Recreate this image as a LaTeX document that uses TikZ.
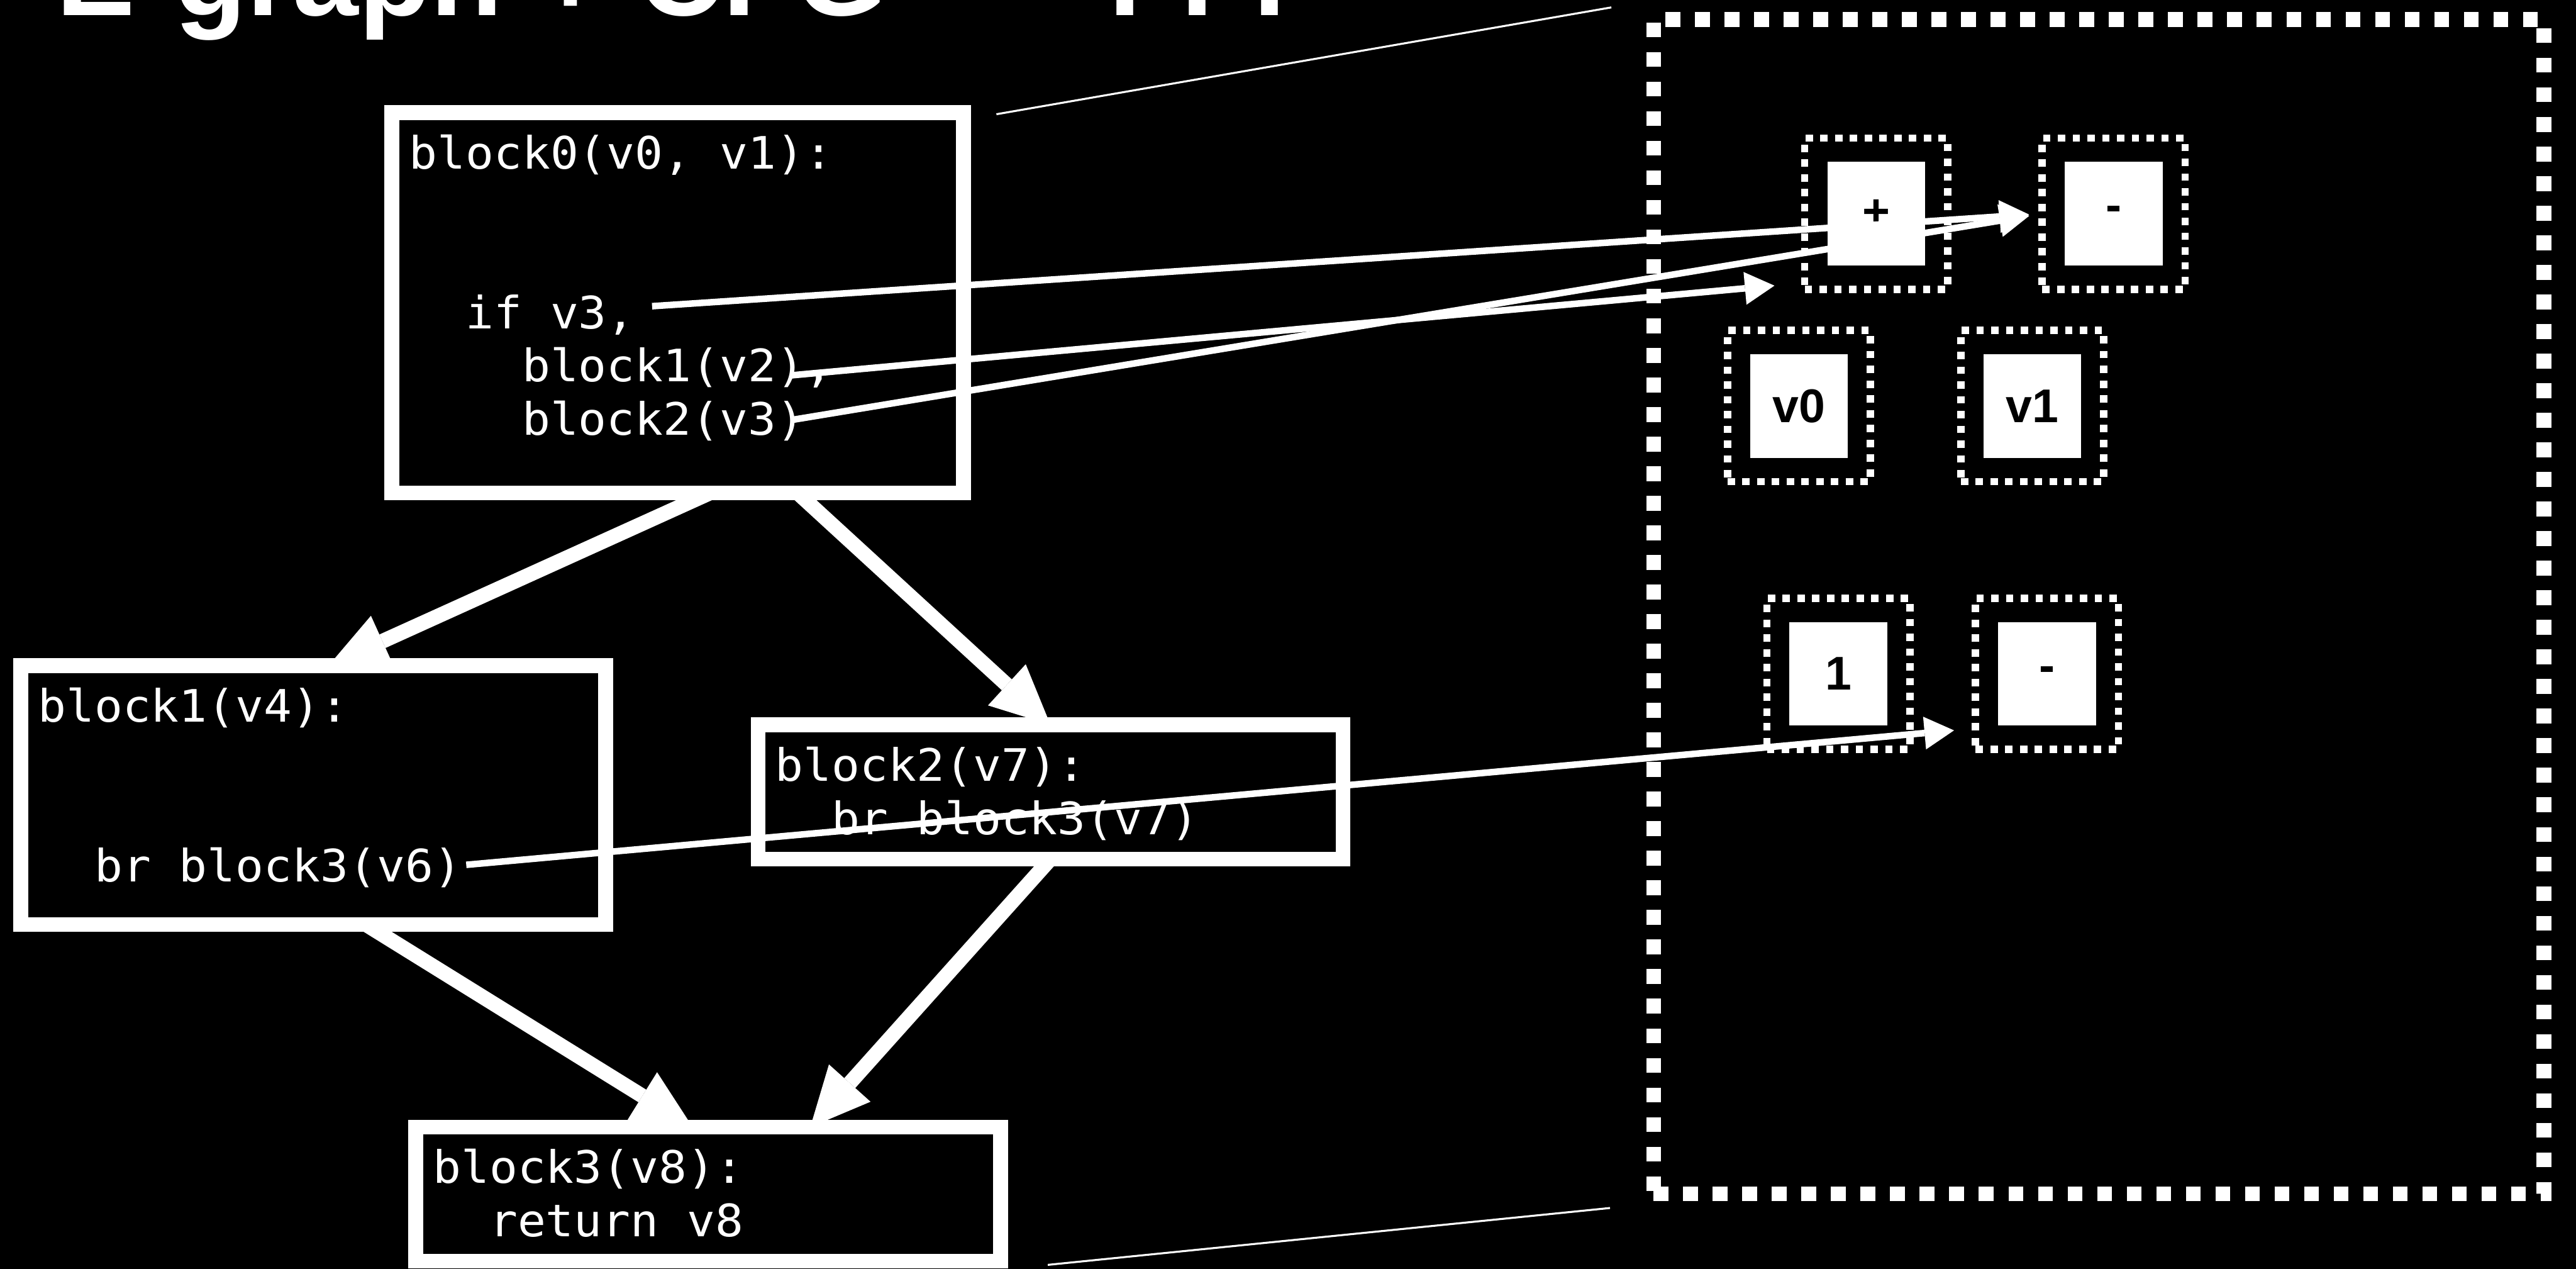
\documentclass[tikz,border=0pt]{standalone}
\usepackage{fontspec}
\setmainfont{Liberation Sans}
\setmonofont[FakeStretch=1.05]{DejaVu Sans Mono}
\usetikzlibrary{arrows.meta,calc}

\newcommand\cfgfont{\ttfamily\fontsize{27.2}{32.4}\selectfont}
\newcommand\enodefont{\bfseries\fontsize{28.8}{32}\selectfont}

\begin{document}
\begin{tikzpicture}[x=1pt, y=-1pt,
  block/.style={draw=white, line width=9pt, inner sep=0pt, outer sep=0pt, minimum width=356pt},
  code/.style={white, font=\cfgfont, inner sep=0pt, anchor=base west},
  egraph/.style={draw=white, line width=9pt, dash pattern=on 9pt off 9pt, inner sep=0pt, outer sep=0pt},
  eclass/.style={draw=white, line width=4.5pt, dash pattern=on 4.5pt off 4.5pt,
    minimum width=87pt, minimum height=92pt, inner sep=0pt, outer sep=0pt},
  enode/.style={fill=white, text=black, font=\enodefont, minimum width=59.5pt, minimum height=63pt, inner sep=0pt},
  cflow/.style={white, line width=9pt, -{Triangle[length=36pt, width=34pt, line width=0pt]}},
  dflow/.style={white, line width=4pt, -{Triangle[length=18pt, width=20pt, line width=0pt]}},
  zoomline/.style={white, line width=1.2pt}]

  % Slide background
  \path[use as bounding box, fill=black] (0,0) rectangle (1568,772);
  \clip (0,0) rectangle (1568,772);

  % Title (cut off at the top)
  \node[anchor=base west, inner sep=0pt, white, font=\bfseries\fontsize{72}{80}\selectfont]
    (title) at (34,9.25) {E-graph + CFG == ???};

  % -------------------------------------------------------
  % CFG blocks
  % -------------------------------------------------------
  \node[block, minimum width=348pt, minimum height=231.5pt] (b0) at (412.5,184.25) {};
  \node[block, minimum height=157.5pt] (b1) at (190.6,483.75) {};
  \node[block, minimum height=81.7pt]  (b2) at (639.4,481.85) {};
  \node[block, minimum height=81.6pt]  (b3) at (431,726.6) {};

  \node[code] (t0) at ($(b0.north west)+(10.3,34.2)$)
    {\begin{tabular}[t]{@{}l@{}}block0(v0, v1):\\ \\ \\ \ \ if v3,\\ \ \ \ \ block1(v2),\\ \ \ \ \ block2(v3)\end{tabular}};
  \node[code] (t1) at ($(b1.north west)+(10.3,34.2)$)
    {\begin{tabular}[t]{@{}l@{}}block1(v4):\\ \\ \\ \ \ br block3(v6)\end{tabular}};
  \node[code] (t2) at ($(b2.north west)+(10.3,34.2)$)
    {\begin{tabular}[t]{@{}l@{}}block2(v7):\\ \ \ br block3(v7)\end{tabular}};
  \node[code] (t3) at ($(b3.north west)+(10.3,34.2)$)
    {\begin{tabular}[t]{@{}l@{}}block3(v8):\\ \ \ return v8\end{tabular}};

  % -------------------------------------------------------
  % E-graph
  % -------------------------------------------------------
  \node[egraph, minimum width=541.9pt, minimum height=714.4pt] (eg) at (1277.45,369.1) {};

  \node[eclass] (cplus) at (1142,130) {};
  \node[enode]  (plus)  at (cplus) {+};
  \node[eclass] (csubA) at (1286.6,130) {};
  \node[enode]  (subA)  at (csubA) {-};
  \node[eclass] (cv0)   at (1095,247) {};
  \node[enode]  (v0)    at (cv0) {v0};
  \node[eclass] (cv1)   at (1237,247) {};
  \node[enode]  (v1)    at (cv1) {v1};
  \node[eclass] (cone)  at (1119,410) {};
  \node[enode]  (one)   at (cone) {1};
  \node[eclass] (csubB) at (1246,410) {};
  \node[enode]  (subB)  at (csubB) {-};

  % Zoom lines
  \draw[zoomline] ($(b0.north east)+(20,1)$) -- ($(eg.north west)+(-25.7,-7.4)$);
  \draw[zoomline] ($(b3.south east)+(28.8,2.2)$) -- ($(eg.south west)+(-26.5,8.7)$);

  % Control flow edges
  \draw[cflow] ($(b0.south)+(19.5,0)$) -- ($(b1.north)+(9.4,0)$);
  \draw[cflow] ($(b0.south)+(73.1,0)$) -- (b2.north);
  \draw[cflow] ($(b1.south)+(32.1,0)$) -- ($(b3.north)+(-9.4,0)$);
  \draw[cflow] (b2.south) -- ($(b3.north)+(62.2,0)$);

  % Values into the e-graph
  \coordinate (ifv3)  at (396.9,186.3);
  \coordinate (argv2) at (481.4,228.4);
  \coordinate (argv3) at (481.4,255.6);
  \coordinate (argv6) at (283.8,526.2);

  \draw[dflow, shorten >=8pt] (ifv3) -- (csubA.west);
  \draw[dflow, shorten >=8pt] (argv3) -- (csubA.west);
  \draw[dflow] (argv2) -- ($(cplus.south west)+(-18.4,-2.2)$);
  \draw[dflow] (argv6) -- ($(csubB.south west)+(-13.1,-11.6)$);

\end{tikzpicture}
\end{document}
